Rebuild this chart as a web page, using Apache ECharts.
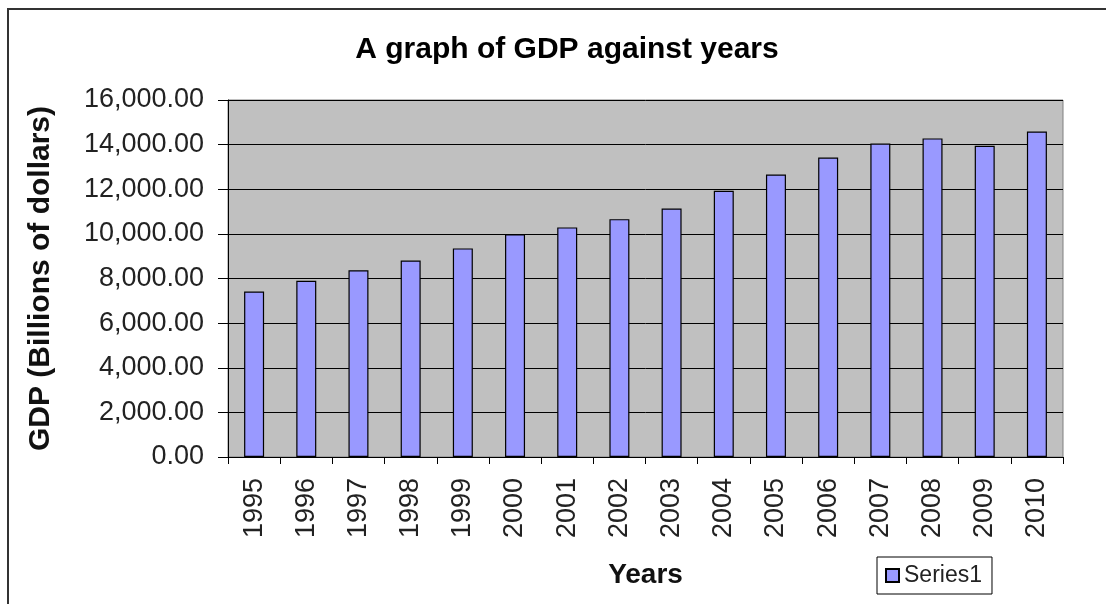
<!DOCTYPE html>
<html>
<head>
<meta charset="utf-8">
<script src="https://cdn.jsdelivr.net/npm/echarts@6/dist/echarts.min.js"></script>
<style>
  html, body { margin: 0; padding: 0; background: #fff; }
  #chart { width: 1106px; height: 604px; }
</style>
</head>
<body>
<div id="chart"></div>
<script>
const years = ['1995','1996','1997','1998','1999','2000','2001','2002','2003','2004','2005','2006','2007','2008','2009','2010'];
const gdp = [7420, 7900, 8370, 8810, 9350, 9980, 10290, 10660, 11140, 11930, 12660, 13420, 14050, 14280, 13950, 14590];
const yTicks = [0, 2000, 4000, 6000, 8000, 10000, 12000, 14000, 16000];

const fontFamily = '"Liberation Sans", Arial, sans-serif';
const chart = echarts.init(document.getElementById('chart'), null, { renderer: 'canvas' });

function fmt(v) {
  return v.toLocaleString('en-US', { minimumFractionDigits: 2, maximumFractionDigits: 2 });
}

chart.setOption({
  animation: false,
  backgroundColor: '#ffffff',
  textStyle: { fontFamily: fontFamily },
  title: {
    text: 'A graph of GDP against years',
    left: 562,
    textAlign: 'center',
    top: 30,
    textStyle: { fontSize: 30, fontWeight: 'bold', color: '#000', fontFamily: fontFamily }
  },
  graphic: [{
    type: 'rect',
    shape: { x: 8, y: 9, width: 1200, height: 700 },
    style: { fill: 'none', stroke: '#333', lineWidth: 2 },
    silent: true
  }],
  legend: {
    left: 877,
    top: 557,
    padding: [7, 10, 7, 8],
    borderColor: '#000',
    borderWidth: 1,
    itemWidth: 13,
    itemHeight: 13,
    icon: 'rect',
    textStyle: { fontSize: 23, color: '#222', fontFamily: fontFamily },
    data: ['Series1']
  },
  grid: {
    left: 228,
    right: 43,
    top: 100,
    bottom: 147,
    show: true,
    backgroundColor: '#C0C0C0',
    borderColor: '#808080',
    borderWidth: 1
  },
  xAxis: {
    type: 'category',
    data: years,
    name: 'Years',
    nameLocation: 'middle',
    nameGap: 104,
    nameTextStyle: { fontSize: 28, fontWeight: 'bold', color: '#111', fontFamily: fontFamily },
    axisLine: { show: true, lineStyle: { color: '#000', width: 1 } },
    axisTick: { show: true, length: 7, lineStyle: { color: '#000' } },
    axisLabel: { rotate: 90, margin: 21, fontSize: 27, color: '#222', fontFamily: fontFamily, interval: 0 },
    splitLine: { show: false }
  },
  yAxis: {
    type: 'value',
    min: 0,
    max: 16000,
    interval: 2000,
    name: 'GDP (Billions of dollars)',
    nameLocation: 'middle',
    nameGap: 172,
    nameTextStyle: { fontSize: 30, fontWeight: 'bold', color: '#111', fontFamily: fontFamily },
    axisLine: { show: true, lineStyle: { color: '#000', width: 1 } },
    axisTick: { show: true, length: 10, lineStyle: { color: '#000' } },
    axisLabel: {
      margin: 24,
      fontSize: 27,
      color: '#222',
      fontFamily: fontFamily,
      formatter: function (v) { return yTicks.indexOf(v) >= 0 ? fmt(v) : ''; }
    },
    splitLine: { show: true, lineStyle: { color: '#000', width: 1 } }
  },
  series: [{
    name: 'Series1',
    type: 'bar',
    data: gdp,
    barWidth: 20,
    itemStyle: { color: '#9999FF', borderColor: '#000', borderWidth: 1.2 }
  }]
});
</script>
</body>
</html>
